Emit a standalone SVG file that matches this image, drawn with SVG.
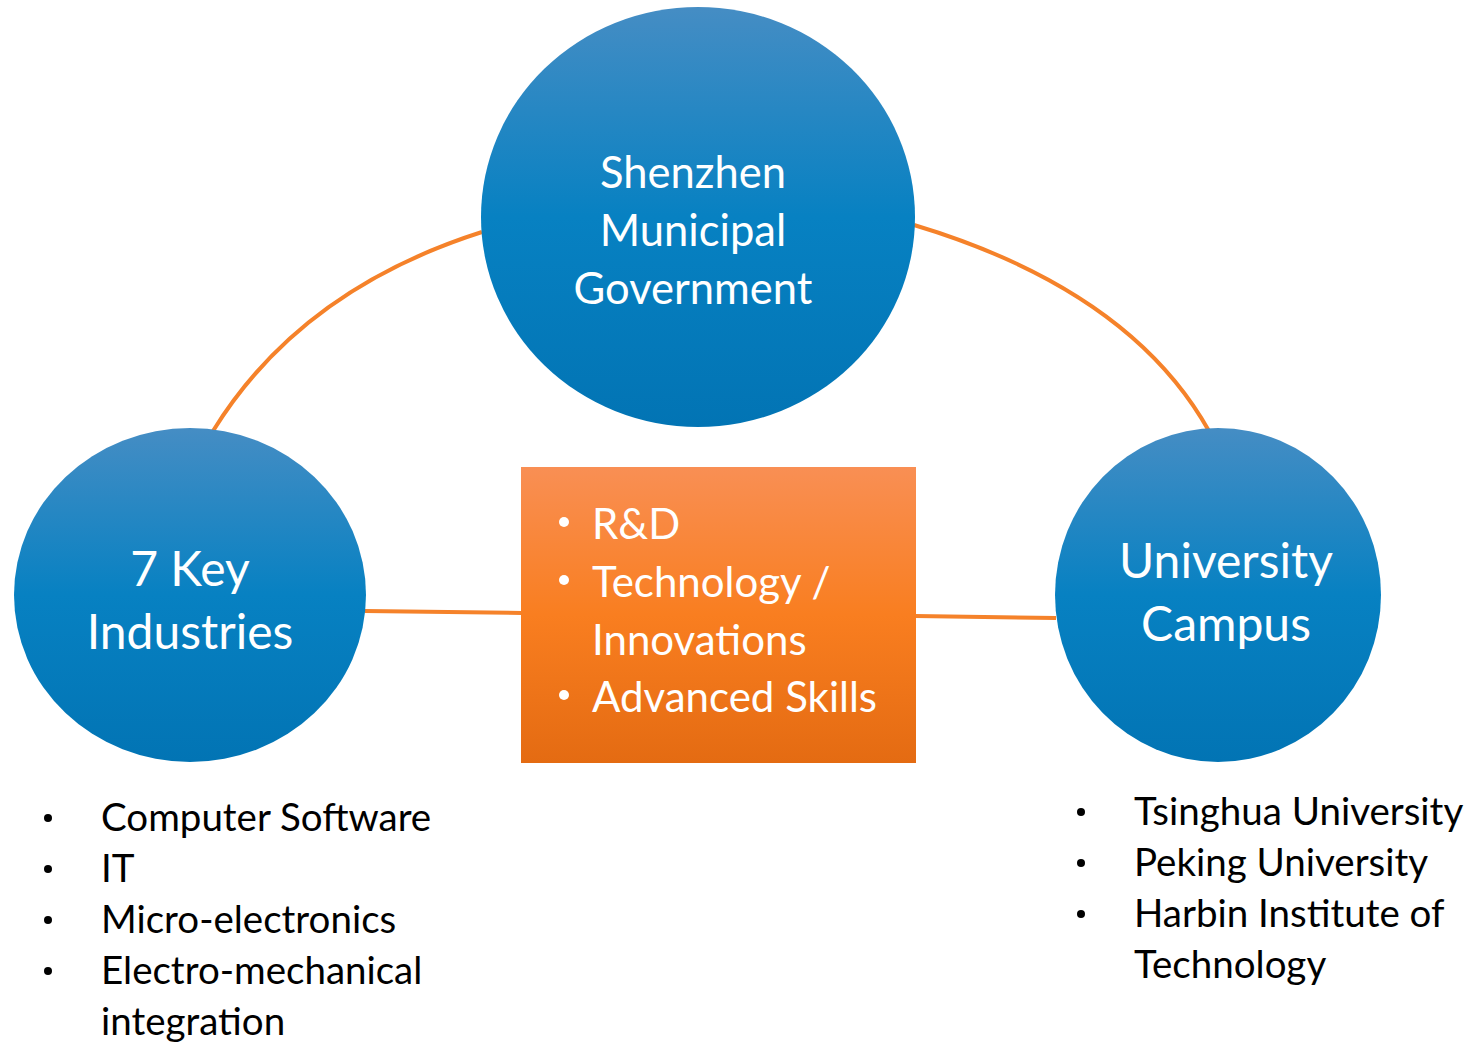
<svg xmlns="http://www.w3.org/2000/svg" width="1477" height="1044" viewBox="0 0 1477 1044">
<defs>
<linearGradient id="blue" x1="0" y1="0" x2="0" y2="1">
<stop offset="0" stop-color="#458dc4"/>
<stop offset="0.5" stop-color="#0781c2"/>
<stop offset="1" stop-color="#0274b4"/>
</linearGradient>
<linearGradient id="orange" x1="0" y1="0" x2="0" y2="1">
<stop offset="0" stop-color="#f98f54"/>
<stop offset="0.5" stop-color="#f97e20"/>
<stop offset="1" stop-color="#e46b12"/>
</linearGradient>
<style>
.node{fill:url(#blue)}
.conn{fill:none;stroke:#f5822a;stroke-width:4}
.wt{fill:#ffffff;font-family:Lato,"Open Sans",sans-serif}
.bk{fill:#000000;font-family:Lato,"Open Sans",sans-serif;font-size:38.5px}
</style>
</defs>
<rect width="1477" height="1044" fill="#ffffff"/>
<g id="connectors">
<path class="conn" d="M213,431 Q300,290 482,232"/>
<path class="conn" d="M914,225 Q1130,290 1209,431"/>
<path class="conn" d="M365,611 L522,613"/>
<path class="conn" d="M915,616 L1056,618"/>
</g>
<g id="gov">
<ellipse class="node" cx="698" cy="217" rx="217" ry="210"/>
<text class="wt" font-size="43.5" text-anchor="middle"><tspan x="693" y="188">Shenzhen</tspan><tspan x="693" y="246">Municipal</tspan><tspan x="693" y="304">Government</tspan></text>
</g>
<g id="industries">
<ellipse class="node" cx="190" cy="595" rx="176" ry="167"/>
<text class="wt" font-size="48" text-anchor="middle"><tspan x="190" y="586">7 Key</tspan><tspan x="190" y="649">Industries</tspan></text>
</g>
<g id="university">
<ellipse class="node" cx="1218" cy="595" rx="163" ry="167"/>
<text class="wt" font-size="48" text-anchor="middle"><tspan x="1226" y="578">University</tspan><tspan x="1226" y="641">Campus</tspan></text>
</g>
<g id="center">
<rect x="521" y="467" width="395" height="296" fill="url(#orange)"/>
<g class="wt" font-size="42">
<circle cx="564" cy="522" r="5" fill="#fff"/>
<circle cx="564" cy="580" r="5" fill="#fff"/>
<circle cx="564" cy="695" r="5" fill="#fff"/>
<text x="592" y="539">R&amp;D</text>
<text x="592" y="597">Technology /</text>
<text x="592" y="655">Innovations</text>
<text x="592" y="712">Advanced Skills</text>
</g>
</g>
<g id="industries-list">
<circle cx="48" cy="818" r="4" fill="#000"/>
<circle cx="48" cy="869" r="4" fill="#000"/>
<circle cx="48" cy="920" r="4" fill="#000"/>
<circle cx="48" cy="971" r="4" fill="#000"/>
<text class="bk" x="101" y="831">Computer Software</text>
<text class="bk" x="101" y="882">IT</text>
<text class="bk" x="101" y="933">Micro-electronics</text>
<text class="bk" x="101" y="984">Electro-mechanical</text>
<text class="bk" x="101" y="1035">integration</text>
</g>
<g id="university-list">
<circle cx="1081" cy="812" r="4" fill="#000"/>
<circle cx="1081" cy="863" r="4" fill="#000"/>
<circle cx="1081" cy="914" r="4" fill="#000"/>
<text class="bk" x="1134" y="825">Tsinghua University</text>
<text class="bk" x="1134" y="876">Peking University</text>
<text class="bk" x="1134" y="927">Harbin Institute of</text>
<text class="bk" x="1134" y="978">Technology</text>
</g>
</svg>
